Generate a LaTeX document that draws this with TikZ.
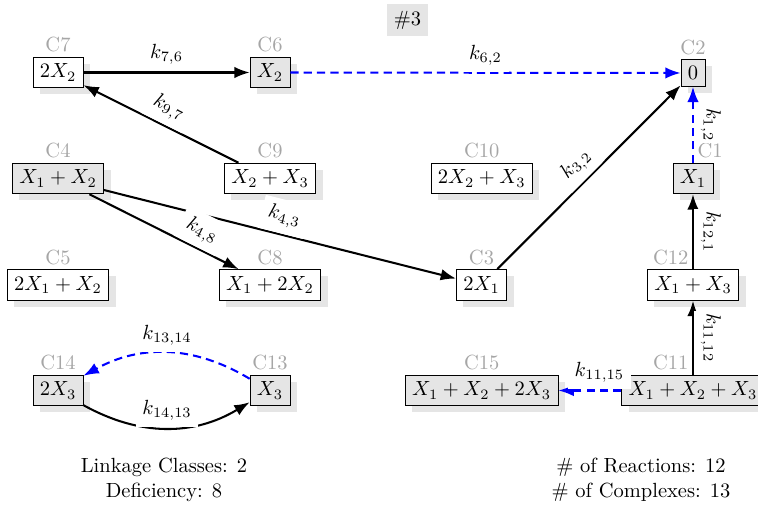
\documentclass[tikz,border=0pt]{standalone}
\usepackage{tikz}
\usetikzlibrary{arrows.meta, shadows}

\tikzset{
  cplx/.style={draw, rectangle, drop shadow={shadow xshift=3.4pt, shadow yshift=-3.2pt, fill=black!10, opacity=1}},
  clabel/.style={text=black!35, inner sep=2pt},
  react/.style={-{Latex}, line width=1pt},
  slow/.style={react, blue, dash pattern=on 4pt off 2.5pt},
  rate/.style={fill=white, text=black},
  rateup/.style={rate, rotate=-90, anchor=south, inner xsep=1pt}
}

\begin{document}
\begin{tikzpicture}[x=0.4878pt, y=-0.4878pt]
  \useasboundingbox (0,0) rectangle (758,510);
  \node[fill=black!10] (title) at (407.5,20) {\#3};
  % complexes
  \foreach \id/\x/\y/\cpx/\shade/\la in {
      7/58/72.5/2X_2/white/south, 6/270/72.5/X_2/black!10/south,
      2/693/73/0/black!10/south,
      4/58/178.5/X_1+X_2/black!10/south, 9/270/178.5/X_2+X_3/white/south,
      10/481.7/178.5/2X_2+X_3/white/south, 1/693/178.5/X_1/black!10/south west,
      5/58/285/2X_1+X_2/white/south, 8/270/285/X_1+2X_2/white/south,
      3/481.5/285/2X_1/white/south, 12/693/285/X_1+X_3/white/south east,
      14/58/390.5/2X_3/black!10/south, 13/270/390.5/X_3/black!10/south,
      15/481.7/390.5/X_1+X_2+2X_3/black!10/south,
      11/693/390.5/X_1+X_2+X_3/black!10/south east}{
    \node[cplx, fill=\shade, label={[clabel, anchor=\la]north:C\id}] (c\id) at (\x,\y) {$\cpx$};
  }
  % reactions
  \draw[react] (c7) -- node[rate, above] {$k_{7,6}$} (c6);
  \draw[slow] (c6) -- node[rate, above] {$k_{6,2}$} (c2);
  \draw[react] (c9) -- node[rate, above, sloped] {$k_{9,7}$} (c7);
  \draw[react] (c4) -- node[rate, above, sloped] {$k_{4,3}$} (c3);
  \draw[react] (c4) -- node[rate, above, sloped, pos=0.7] {$k_{4,8}$} (c8);
  \draw[react] (c3) -- node[rate, above, sloped] {$k_{3,2}$} (c2);
  \draw[slow] (c1) -- node[rateup] {$k_{1,2}$} (c2);
  \draw[react] (c12) -- node[rateup] {$k_{12,1}$} (c1);
  \draw[react] (c11) -- node[rateup] {$k_{11,12}$} (c12);
  \draw[slow] (c11) -- node[rate, above, pos=0.35] {$k_{11,15}$} (c15);
  \draw[slow] (c13) to[bend right=30] node[rate, above] {$k_{13,14}$} (c14);
  \draw[react] (c14) to[bend right=30] node[rate, above] {$k_{14,13}$} (c13);
  % summary
  \node[align=center] (linkage) at (164,480) {Linkage Classes: 2\\Deficiency: 8};
  \node[align=center] (counts) at (641,480) {\# of Reactions: 12\\\# of Complexes: 13};
\end{tikzpicture}
\end{document}
